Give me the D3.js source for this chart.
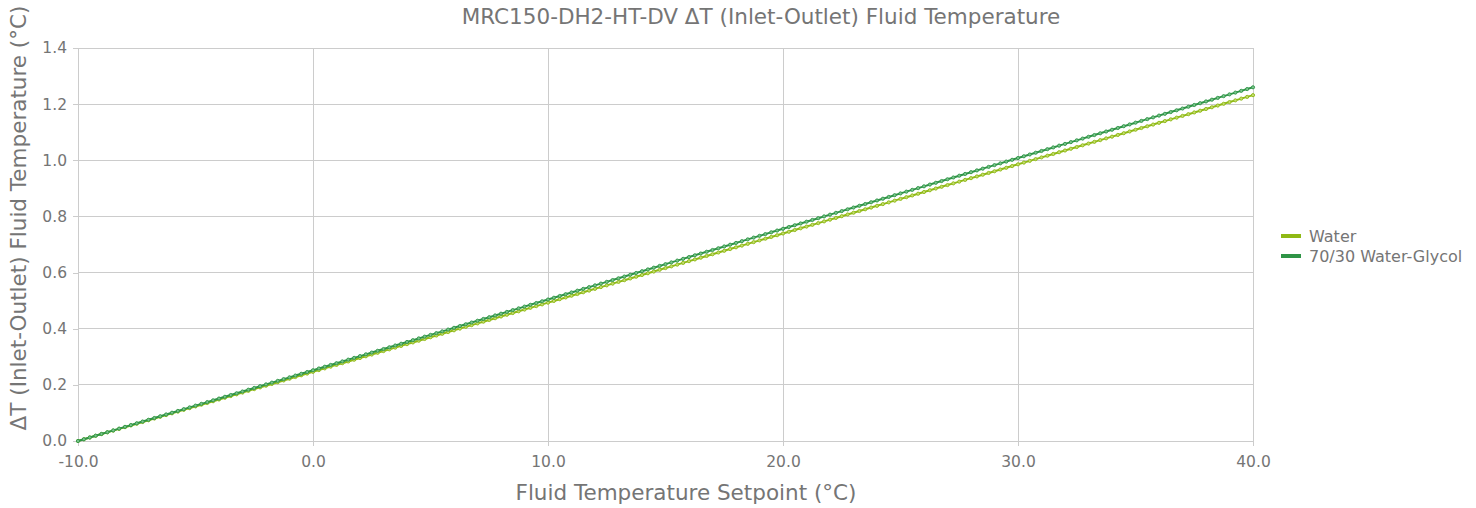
<!DOCTYPE html>
<html><head><meta charset="utf-8">
<script src="https://cdn.jsdelivr.net/npm/d3@7"></script>
<style>body{margin:0;background:#fff;} svg text{font-family:"DejaVu Sans",sans-serif;}</style>
</head><body><svg id="c" width="1476" height="508"></svg>
<script>
const title = "MRC150-DH2-HT-DV ΔT (Inlet-Outlet) Fluid Temperature";
const xTitle = "Fluid Temperature Setpoint (°C)";
const yTitle = "ΔT (Inlet-Outlet) Fluid Temperature (°C)";
const seriesNames = ["Water", "70/30 Water-Glycol"];
const xTicks = [-10, 0, 10, 20, 30, 40];
const yTicks = [0, 0.2, 0.4, 0.6, 0.8, 1.0, 1.2, 1.4];
const setpoints = [-10,-9.75,-9.5,-9.25,-9,-8.75,-8.5,-8.25,-8,-7.75,-7.5,-7.25,-7,-6.75,-6.5,-6.25,-6,-5.75,-5.5,-5.25,-5,-4.75,-4.5,-4.25,-4,-3.75,-3.5,-3.25,-3,-2.75,-2.5,-2.25,-2,-1.75,-1.5,-1.25,-1,-0.75,-0.5,-0.25,
0,0.25,0.5,0.75,1,1.25,1.5,1.75,2,2.25,2.5,2.75,3,3.25,3.5,3.75,4,4.25,4.5,4.75,5,5.25,5.5,5.75,6,6.25,6.5,6.75,7,7.25,7.5,7.75,8,8.25,8.5,8.75,9,9.25,9.5,9.75,
10,10.25,10.5,10.75,11,11.25,11.5,11.75,12,12.25,12.5,12.75,13,13.25,13.5,13.75,14,14.25,14.5,14.75,15,15.25,15.5,15.75,16,16.25,16.5,16.75,17,17.25,17.5,17.75,18,18.25,18.5,18.75,19,19.25,19.5,19.75,
20,20.25,20.5,20.75,21,21.25,21.5,21.75,22,22.25,22.5,22.75,23,23.25,23.5,23.75,24,24.25,24.5,24.75,25,25.25,25.5,25.75,26,26.25,26.5,26.75,27,27.25,27.5,27.75,28,28.25,28.5,28.75,29,29.25,29.5,29.75,
30,30.25,30.5,30.75,31,31.25,31.5,31.75,32,32.25,32.5,32.75,33,33.25,33.5,33.75,34,34.25,34.5,34.75,35,35.25,35.5,35.75,36,36.25,36.5,36.75,37,37.25,37.5,37.75,38,38.25,38.5,38.75,39,39.25,39.5,39.75,40];
const water = [0,.00616,.01232,.01848,.02464,.0308,.03696,.04312,.04928,.05544,.0616,.06776,.07392,.08008,.08624,.0924,.09856,.10472,.11088,.11704,.1232,.12936,.13552,.14168,.14784,.154,.16016,.16632,.17248,.17864,.1848,.19096,.19712,.20328,.20944,.2156,.22176,.22792,.23408,.24024,
.2464,.25256,.25872,.26488,.27104,.2772,.28336,.28952,.29568,.30184,.308,.31416,.32032,.32648,.33264,.3388,.34496,.35112,.35728,.36344,.3696,.37576,.38192,.38808,.39424,.4004,.40656,.41272,.41888,.42504,.4312,.43736,.44352,.44968,.45584,.462,.46816,.47432,.48048,.48664,
.4928,.49896,.50512,.51128,.51744,.5236,.52976,.53592,.54208,.54824,.5544,.56056,.56672,.57288,.57904,.5852,.59136,.59752,.60368,.60984,.616,.62216,.62832,.63448,.64064,.6468,.65296,.65912,.66528,.67144,.6776,.68376,.68992,.69608,.70224,.7084,.71456,.72072,.72688,.73304,
.7392,.74536,.75152,.75768,.76384,.77,.77616,.78232,.78848,.79464,.8008,.80696,.81312,.81928,.82544,.8316,.83776,.84392,.85008,.85624,.8624,.86856,.87472,.88088,.88704,.8932,.89936,.90552,.91168,.91784,.924,.93016,.93632,.94248,.94864,.9548,.96096,.96712,.97328,.97944,
.9856,.99176,.99792,1.00408,1.01024,1.0164,1.02256,1.02872,1.03488,1.04104,1.0472,1.05336,1.05952,1.06568,1.07184,1.078,1.08416,1.09032,1.09648,1.10264,1.1088,1.11496,1.12112,1.12728,1.13344,1.1396,1.14576,1.15192,1.15808,1.16424,1.1704,1.17656,1.18272,1.18888,1.19504,1.2012,1.20736,1.21352,1.21968,1.22584,1.232];
const glycol = [0,.0063,.0126,.0189,.0252,.0315,.0378,.0441,.0504,.0567,.063,.0693,.0756,.0819,.0882,.0945,.1008,.1071,.1134,.1197,.126,.1323,.1386,.1449,.1512,.1575,.1638,.1701,.1764,.1827,.189,.1953,.2016,.2079,.2142,.2205,.2268,.2331,.2394,.2457,
.252,.2583,.2646,.2709,.2772,.2835,.2898,.2961,.3024,.3087,.315,.3213,.3276,.3339,.3402,.3465,.3528,.3591,.3654,.3717,.378,.3843,.3906,.3969,.4032,.4095,.4158,.4221,.4284,.4347,.441,.4473,.4536,.4599,.4662,.4725,.4788,.4851,.4914,.4977,
.504,.5103,.5166,.5229,.5292,.5355,.5418,.5481,.5544,.5607,.567,.5733,.5796,.5859,.5922,.5985,.6048,.6111,.6174,.6237,.63,.6363,.6426,.6489,.6552,.6615,.6678,.6741,.6804,.6867,.693,.6993,.7056,.7119,.7182,.7245,.7308,.7371,.7434,.7497,
.756,.7623,.7686,.7749,.7812,.7875,.7938,.8001,.8064,.8127,.819,.8253,.8316,.8379,.8442,.8505,.8568,.8631,.8694,.8757,.882,.8883,.8946,.9009,.9072,.9135,.9198,.9261,.9324,.9387,.945,.9513,.9576,.9639,.9702,.9765,.9828,.9891,.9954,1.0017,
1.008,1.0143,1.0206,1.0269,1.0332,1.0395,1.0458,1.0521,1.0584,1.0647,1.071,1.0773,1.0836,1.0899,1.0962,1.1025,1.1088,1.1151,1.1214,1.1277,1.134,1.1403,1.1466,1.1529,1.1592,1.1655,1.1718,1.1781,1.1844,1.1907,1.197,1.2033,1.2096,1.2159,1.2222,1.2285,1.2348,1.2411,1.2474,1.2537,1.26];
const colors = ["#8fb915", "#2f9446"];
const fills = ["#c4dc70", "#7cc58e"];

const svg = d3.select("#c");
const m = {l:78, r:1253, t:48, b:441};
const x = d3.scaleLinear().domain([-10,40]).range([m.l, m.r]);
const y = d3.scaleLinear().domain([0,1.4]).range([m.b, m.t]);
const grid = "#cccccc", txt = "#757575";
const fmt = d => d3.format(".1f")(d).replace("−", "-");

// gridlines
svg.append("g").selectAll("line").data(yTicks).join("line")
  .attr("x1", m.l).attr("x2", m.r).attr("y1", d=>y(d)).attr("y2", d=>y(d))
  .attr("stroke", grid).attr("stroke-width", 1).attr("shape-rendering","crispEdges");
svg.append("g").selectAll("line").data(xTicks).join("line")
  .attr("x1", d=>x(d)).attr("x2", d=>x(d)).attr("y1", m.t).attr("y2", m.b)
  .attr("stroke", grid).attr("stroke-width", 1).attr("shape-rendering","crispEdges");

// axes
const yAxis = svg.append("g").attr("transform", `translate(${m.l},0)`)
  .call(d3.axisLeft(y).tickValues(yTicks).tickFormat(fmt).tickSize(5).tickPadding(6));
const xAxis = svg.append("g").attr("transform", `translate(0,${m.b})`)
  .call(d3.axisBottom(x).tickValues(xTicks).tickFormat(fmt).tickSize(5).tickPadding(10));
[xAxis, yAxis].forEach(a => {
  a.selectAll("path,line").attr("stroke", grid).attr("shape-rendering","crispEdges");
  a.selectAll("text").attr("fill", txt).style("font-size","15.5px").style("font-family","'DejaVu Sans'");
});

// series
const seriesData = [water, glycol];
seriesData.forEach((vals, i) => {
  const pts = setpoints.map((sx, j) => [sx, vals[j]]);
  svg.append("path").datum(pts)
    .attr("d", d3.line().x(d=>x(d[0])).y(d=>y(d[1])))
    .attr("fill","none").attr("stroke", colors[i]).attr("stroke-width", 2);
  svg.append("g").selectAll("circle").data(pts).join("circle")
    .attr("cx", d=>x(d[0])).attr("cy", d=>y(d[1])).attr("r", 1.6)
    .attr("fill", fills[i]).attr("stroke", colors[i]).attr("stroke-width", 0.9);
});

// titles
svg.append("text").attr("x", 761).attr("y", 24).attr("text-anchor","middle")
  .attr("fill", txt).style("font-size","21.5px").text(title);
svg.append("text").attr("x", 686).attr("y", 500).attr("text-anchor","middle")
  .attr("fill", txt).style("font-size","21.5px").text(xTitle);
svg.append("text").attr("transform","translate(26,218) rotate(-90)").attr("text-anchor","middle")
  .attr("fill", txt).style("font-size","21.5px").text(yTitle);

// legend
const lg = svg.append("g").attr("transform","translate(1281,236)");
seriesNames.forEach((n, i) => {
  lg.append("rect").attr("x",0).attr("y", i*20 - 2).attr("width",20).attr("height",4).attr("fill", colors[i]);
  lg.append("text").attr("x",28).attr("y", i*20 + 6).attr("fill", txt).style("font-size","16px").text(n);
});
</script></body></html>
